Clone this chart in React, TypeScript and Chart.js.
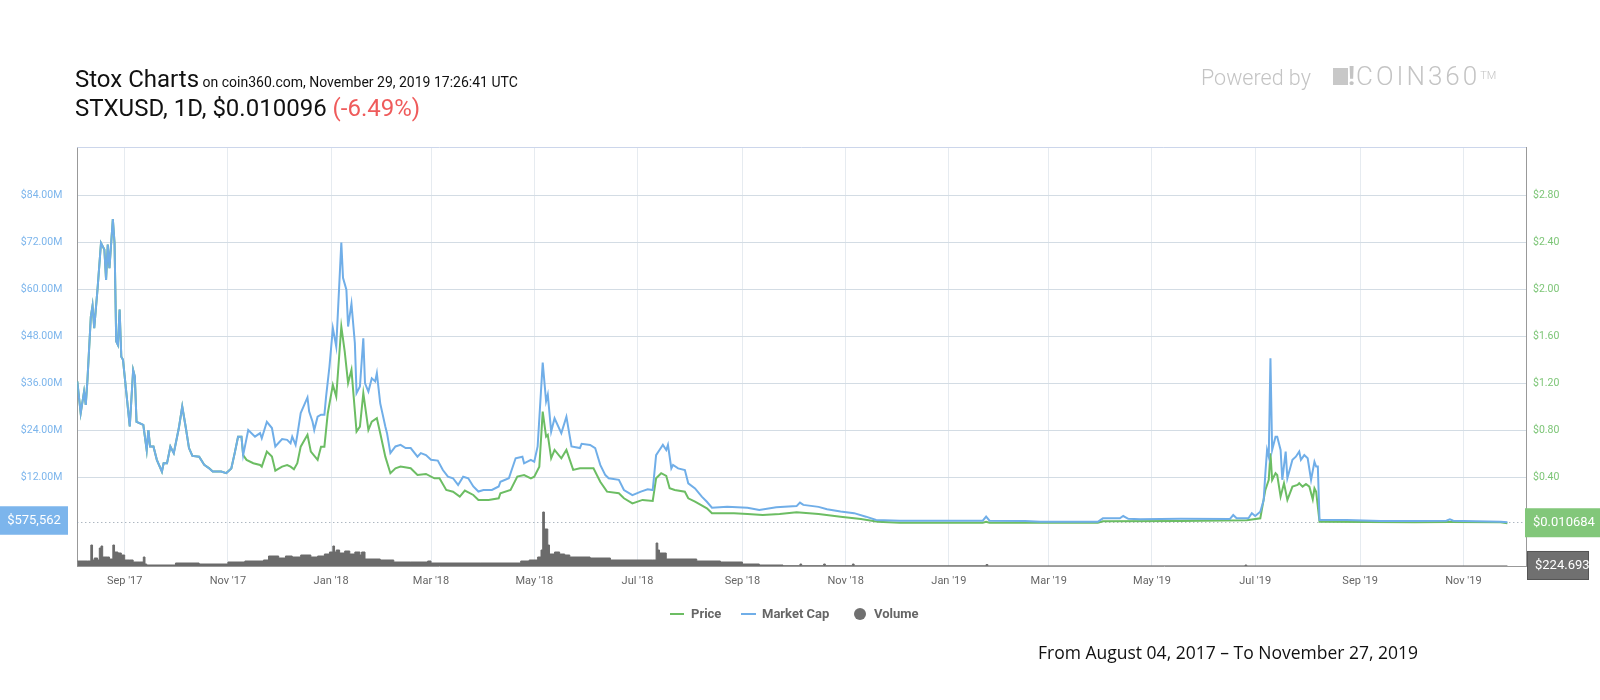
import React, { useEffect, useRef } from "react";
import { Chart, registerables } from "chart.js";

Chart.register(...registerables);

// ---- Data (x = days since Aug 04, 2017) ----
const tickDays = [28, 89, 150, 209, 270, 331, 393, 454, 515, 574, 635, 696, 758, 819];
const tickLabels = ["Sep '17", "Nov '17", "Jan '18", "Mar '18", "May '18", "Jul '18", "Sep '18", "Nov '18", "Jan '19", "Mar '19", "May '19", "Jul '19", "Sep '19", "Nov '19"];

const capTicks = [12, 24, 36, 48, 60, 72, 84]; // USD millions
const priceTicks = [0.4, 0.8, 1.2, 1.6, 2.0, 2.4, 2.8];

// Market cap, USD millions
const capDays = [
  0, 2, 4, 5, 6, 8, 9, 10, 12, 14, 16, 17, 18, 19, 21, 22, 23, 24, 25, 26, 27, 29, 31, 33, 34, 35, 39, 41, 42, 43, 45, 47, 50, 51, 53, 55, 57, 60, 62, 64, 66, 68, 72, 75, 78, 80, 85, 88, 91, 93, 95, 97, 98,
  101, 105, 108, 109, 112, 115, 117, 121, 124, 126, 127, 129, 130, 132, 136, 137, 139, 140, 142, 144, 146, 147, 149, 151, 153, 156, 157, 159, 160, 162, 164, 165, 167, 169, 170, 172, 174, 176, 177, 179, 182, 183, 185, 188, 191, 194, 197, 201, 203, 206, 209, 213, 216, 219, 222, 225, 228, 231, 234, 237, 240, 245, 249,
  250, 255, 259, 263, 264, 268, 270, 272, 275, 277, 278, 280, 282, 286, 289, 292, 297, 298, 303, 306, 309, 312, 314, 320, 323, 328, 333, 337, 340, 342, 344, 346, 348, 349, 351, 352, 355, 359, 361, 365, 369, 372, 375, 384, 396, 403, 413, 425, 427, 429, 438, 443, 451, 459, 466, 472, 486,
  535, 537, 539, 560, 569, 603, 606, 616, 618, 621, 628, 652, 681, 683, 685, 692, 694, 696, 699, 701, 702, 703, 704, 705, 706, 708, 709, 711, 712, 714, 715, 718, 720, 722, 723, 725, 727, 729, 731, 732, 733, 734, 750, 770, 790, 809, 811, 813, 819, 841, 845,
];
const capValues = [
  36.5, 28.4, 33.9, 30.5, 36.9, 53.0, 55.8, 50.1, 60.3, 71.8, 70.1, 62.4, 71.4, 65.4, 77.9, 71.8, 46.7, 45.8, 54.8, 42.8, 42.0, 33.5, 25.0, 39.4, 37.7, 26.2, 25.4, 19.0, 24.1, 19.9, 19.9, 16.5, 13.5, 15.6, 15.6, 19.9, 18.2, 24.6, 30.1, 25.0, 19.5, 17.5, 17.3, 15.2, 14.3, 13.5, 13.5, 13.1, 14.3, 18.2, 22.4, 22.4, 17.7,
  24.1, 22.4, 23.3, 22.0, 26.2, 24.6, 19.9, 21.8, 21.6, 20.7, 22.4, 20.3, 22.8, 28.4, 32.4, 28.8, 26.2, 24.1, 27.5, 28.0, 28.0, 32.6, 40.3, 50.1, 45.4, 71.9, 62.9, 59.9, 50.5, 56.3, 46.3, 33.5, 35.2, 47.5, 36.0, 33.9, 37.3, 36.5, 38.6, 30.9, 25.0, 23.3, 18.2, 19.9, 20.3, 19.5, 19.5, 17.3, 18.2, 17.7, 16.5, 16.3, 13.9, 12.2, 11.8, 10.1, 12.2, 11.8, 9.7, 8.4, 8.8, 8.8, 9.7,
  10.9, 11.8, 16.9, 17.3, 15.6, 16.5, 16.0, 19.9, 41.3, 31.4, 33.1, 23.7, 27.1, 23.3, 27.5, 19.9, 19.5, 20.6, 20.3, 19.5, 15.2, 12.6, 11.8, 11.4, 8.8, 7.5, 8.4, 9.0, 8.8, 17.7, 19.0, 20.3, 19.0, 20.3, 14.3, 15.2, 14.3, 13.9, 10.5, 9.2, 7.1, 5.8, 4.3, 4.5, 4.3, 3.7, 4.4, 4.7, 5.6, 5.0, 4.5, 3.9, 3.3, 2.9, 2.0, 1.15, 0.97,
  0.97, 2.0, 0.97, 0.9, 0.71, 0.71, 1.58, 1.6, 2.17, 1.45, 1.33, 1.45, 1.40, 2.43, 1.58, 1.58, 2.86, 2.17, 3.27, 6.25, 13.1, 19.0, 17.3, 42.4, 19.0, 22.4, 22.4, 19.0, 11.4, 18.6, 11.8, 16.5, 17.3, 18.6, 16.5, 17.7, 16.9, 11.4, 16.0, 14.8, 14.8, 1.15, 1.15, 0.89, 0.89, 0.95, 1.33, 0.95, 0.89, 0.71, 0.575562,
];

// Price, USD
const priceDays = [
  0, 2, 4, 5, 6, 8, 9, 10, 12, 14, 16, 17, 18, 19, 21, 22, 23, 24, 25, 26, 27, 29, 31, 33, 34, 35, 39, 41, 42, 43, 45, 47, 50, 51, 53, 55, 57, 60, 62, 64, 66, 68, 72, 75, 78, 80, 85, 88, 91, 93, 95, 97, 98,
  100, 104, 108, 109, 112, 115, 117, 121, 124, 126, 128, 130, 132, 136, 138, 142, 144, 146, 148, 151, 153, 156, 158, 160, 162, 165, 167, 169, 172, 174, 177, 179, 182, 185, 188, 191, 197, 201, 206, 211, 214, 218, 222, 226, 229, 234, 237, 243, 249,
  250, 256, 260, 264, 268, 270, 273, 275, 277, 278, 280, 282, 286, 289, 293, 297, 305, 309, 313, 320, 323, 328, 334, 340, 342, 345, 348, 350, 353, 359, 361, 365, 372, 375, 388, 396, 405, 415, 425, 438, 451, 463, 473, 486,
  535, 537, 539, 569, 603, 606, 652, 691, 699, 702, 704, 705, 706, 708, 709, 711, 713, 715, 718, 721, 722, 724, 726, 728, 730, 731, 732, 734, 790, 811, 841, 845,
];
const priceValues = [
  1.217, 0.947, 1.130, 1.017, 1.230, 1.767, 1.860, 1.670, 2.010, 2.393, 2.337, 2.080, 2.380, 2.180, 2.597, 2.393, 1.557, 1.527, 1.827, 1.427, 1.400, 1.117, 0.833, 1.313, 1.257, 0.873, 0.847, 0.633, 0.803, 0.663, 0.663, 0.550, 0.450, 0.520, 0.520, 0.663, 0.607, 0.820, 1.003, 0.833, 0.650, 0.583, 0.577, 0.507, 0.477, 0.450, 0.450, 0.437, 0.477, 0.607, 0.747, 0.747, 0.590,
  0.549, 0.521, 0.506, 0.492, 0.620, 0.577, 0.458, 0.492, 0.506, 0.492, 0.470, 0.521, 0.662, 0.762, 0.620, 0.549, 0.662, 0.662, 0.946, 1.187, 1.088, 1.683, 1.471, 1.202, 1.315, 0.790, 0.832, 1.117, 0.804, 0.875, 0.904, 0.776, 0.577, 0.436, 0.478, 0.492, 0.478, 0.421, 0.430, 0.393, 0.393, 0.294, 0.279, 0.237, 0.288, 0.251, 0.209, 0.209, 0.223,
  0.266, 0.294, 0.407, 0.421, 0.393, 0.407, 0.492, 0.960, 0.747, 0.762, 0.563, 0.634, 0.563, 0.634, 0.464, 0.478, 0.478, 0.364, 0.279, 0.266, 0.223, 0.180, 0.209, 0.200, 0.393, 0.436, 0.413, 0.308, 0.294, 0.279, 0.223, 0.194, 0.138, 0.095, 0.095, 0.089, 0.081, 0.089, 0.104, 0.089, 0.066, 0.047, 0.024, 0.015,
  0.015, 0.024, 0.015, 0.015, 0.015, 0.027, 0.030, 0.036, 0.053, 0.294, 0.379, 0.606, 0.379, 0.436, 0.421, 0.237, 0.351, 0.209, 0.322, 0.336, 0.351, 0.322, 0.345, 0.322, 0.214, 0.308, 0.279, 0.024, 0.020, 0.022, 0.019, 0.010684,
];

// Volume, USD thousands
const volDays = [
  0, 6, 8, 9, 10, 12, 13, 14, 15, 18, 19, 21, 22, 24, 26, 28, 31, 33, 37, 39, 40, 41, 58, 72, 89, 99, 110, 113, 119, 123,
  127, 132, 138, 142, 146, 149, 151, 152, 153, 155, 158, 161, 164, 167, 168, 170, 179, 187, 197, 207, 209, 238, 262, 267, 272, 274, 275, 276, 278, 279,
  282, 285, 288, 291, 303, 315, 340, 342, 343, 344, 348, 366, 380, 393, 403, 417, 427, 428, 441, 442, 458, 459, 537, 538, 690, 691, 845,
];
const volValues = [
  100, 100, 420, 120, 160, 120, 360, 400, 180, 180, 140, 420, 280, 260, 220, 120, 120, 80, 80, 180, 40, 20, 60, 40, 80, 100, 120, 200, 160, 200,
  180, 220, 180, 200, 240, 280, 400, 280, 320, 260, 300, 240, 280, 220, 280, 140, 120, 80, 80, 100, 60, 60, 100, 120, 180, 320, 1080, 740, 420, 240,
  280, 240, 220, 180, 160, 120, 120, 460, 320, 260, 140, 100, 80, 40, 20, 6, 40, 6, 40, 6, 40, 4, 30, 2, 20, 1, 0.224693,
];

const lastCap = 575562;
const lastPrice = 0.010684;
const lastVolume = 224.693;

const BLUE = "#70aee8";
const GREEN = "#6cbd63";
const VOL = "#6b6b6b";

export default function App() {
  const ref = useRef<HTMLCanvasElement>(null);

  useEffect(() => {
    const canvas = ref.current!;

    const overlayPlugin = {
      id: "stxOverlay",
      beforeDatasetsDraw(chart: any) {
        const { ctx, chartArea: a, scales } = chart;
        ctx.save();
        ctx.lineWidth = 1;
        ctx.strokeStyle = "#ccd6eb";
        ctx.beginPath();
        ctx.moveTo(a.left, Math.round(a.top) + 0.5);
        ctx.lineTo(a.right, Math.round(a.top) + 0.5);
        ctx.stroke();
        const y = Math.round(scales.yCap.getPixelForValue(lastCap / 1e6)) + 0.5;
        ctx.setLineDash([1, 3]);
        ctx.strokeStyle = "#8a98a6";
        ctx.beginPath();
        ctx.moveTo(a.left, y);
        ctx.lineTo(a.right, y);
        ctx.stroke();
        ctx.restore();
      },
      afterDraw(chart: any) {
        const { ctx, chartArea: a, scales } = chart;
        ctx.save();
        ctx.font = "13px Roboto, sans-serif";
        ctx.textBaseline = "middle";
        const yC = scales.yCap.getPixelForValue(lastCap / 1e6);
        ctx.fillStyle = "#7cb5ec";
        ctx.fillRect(0, yC - 16, 68, 28.5);
        ctx.fillStyle = "#ffffff";
        ctx.textAlign = "center";
        ctx.fillText("$" + lastCap.toLocaleString("en-US"), 34, yC - 1.5);

        const yP = scales.yPrice.getPixelForValue(lastPrice);
        ctx.fillStyle = "#82c77a";
        ctx.fillRect(a.right - 1, yP - 15, 1600 - a.right + 1, 29);
        ctx.fillStyle = "#ffffff";
        ctx.textAlign = "left";
        ctx.fillText("$" + lastPrice, a.right + 7, yP);

        const yV = scales.yVol.getPixelForValue(lastVolume / 1000);
        ctx.fillStyle = "#707070";
        ctx.fillRect(a.right + 1, yV - 15, 62, 29);
        ctx.strokeStyle = "#555555";
        ctx.lineWidth = 1;
        ctx.strokeRect(a.right + 1.5, yV - 14.5, 61, 28);
        ctx.fillStyle = "#ffffff";
        ctx.fillText("$" + lastVolume, a.right + 9, yV);
        ctx.restore();
      },
    };

    const chart = new Chart(canvas, {
      type: "line",
      data: {
        datasets: [
          {
            label: "Market Cap",
            data: capDays.map((d, i) => ({ x: d, y: capValues[i] })),
            yAxisID: "yCap",
            borderColor: BLUE,
            backgroundColor: BLUE,
            borderWidth: 2,
            pointRadius: 0,
            tension: 0,
            order: 1,
          },
          {
            label: "Price",
            data: priceDays.map((d, i) => ({ x: d, y: priceValues[i] })),
            yAxisID: "yPrice",
            borderColor: GREEN,
            backgroundColor: GREEN,
            borderWidth: 2,
            pointRadius: 0,
            tension: 0,
            order: 2,
          },
          {
            label: "Volume",
            data: volDays.map((d, i) => ({ x: d, y: volValues[i] })),
            yAxisID: "yVol",
            borderColor: VOL,
            backgroundColor: VOL,
            borderWidth: 1,
            pointRadius: 0,
            stepped: true,
            fill: "origin",
            order: 3,
          },
        ],
      },
      options: {
        responsive: false,
        animation: false,
        events: [],
        layout: { padding: { top: 147.3, bottom: 104, left: 0, right: 0 } },
        plugins: { legend: { display: false }, tooltip: { enabled: false } },
        scales: {
          x: {
            type: "linear",
            min: 0,
            max: 856,
            afterBuildTicks: (s: any) => {
              s.ticks = tickDays.map((v) => ({ value: v }));
            },
            afterFit: (s: any) => {
              s.height = 30;
            },
            ticks: {
              autoSkip: false,
              maxRotation: 0,
              padding: 9,
              color: "#666666",
              font: { family: "Roboto", size: 11 },
              callback: (v: any) => {
                const i = tickDays.indexOf(Number(v));
                return i >= 0 ? tickLabels[i] : "";
              },
            },
            grid: { color: "#e6ebf0", drawTicks: false },
            border: { color: "#999999" },
          },
          yCap: {
            type: "linear",
            position: "left",
            min: -10.58,
            max: 96.2,
            afterBuildTicks: (s: any) => {
              s.ticks = capTicks.map((v) => ({ value: v }));
            },
            afterFit: (s: any) => {
              s.width = 77.3;
            },
            ticks: {
              padding: 15,
              color: "#7cb5ec",
              font: { family: "Roboto", size: 10.5 },
              callback: (v: any) => "$" + Number(v).toFixed(2) + "M",
            },
            grid: { color: "#d3dce4", drawTicks: false },
            border: { color: "#999999" },
          },
          yPrice: {
            type: "linear",
            position: "right",
            min: -0.3528,
            max: 3.2068,
            afterBuildTicks: (s: any) => {
              s.ticks = priceTicks.map((v) => ({ value: v }));
            },
            afterFit: (s: any) => {
              s.width = 74;
            },
            ticks: {
              padding: 7,
              color: "#7cc576",
              font: { family: "Roboto", size: 10.5 },
              callback: (v: any) => "$" + Number(v).toFixed(2),
            },
            grid: { display: false, drawTicks: false },
            border: { color: "#999999" },
          },
          yVol: {
            type: "linear",
            display: false,
            min: 0,
            max: 8374,
          },
        },
      },
      plugins: [overlayPlugin],
    } as any);

    return () => chart.destroy();
  }, []);

  const legendText: React.CSSProperties = {
    position: "absolute",
    top: 606,
    lineHeight: "16px",
    fontSize: 13,
    fontWeight: 700,
    color: "#666666",
    whiteSpace: "nowrap",
  };

  return (
    <div
      style={{
        position: "absolute",
        left: 0,
        top: 0,
        width: 1600,
        height: 700,
        background: "#ffffff",
        fontFamily: "Roboto, 'Noto Sans', sans-serif",
        overflow: "hidden",
      }}
    >
      <canvas
        ref={ref}
        width={1600}
        height={700}
        style={{ position: "absolute", left: 0, top: 0, width: 1600, height: 700, display: "block" }}
      />

      <div style={{ position: "absolute", left: 75, top: 66.5, lineHeight: "24px", whiteSpace: "nowrap", color: "#111" }}>
        <span style={{ fontSize: 24 }}>Stox Charts</span>
        <span style={{ fontSize: 14 }}> on coin360.com, November 29, 2019 17:26:41 UTC</span>
      </div>
      <div style={{ position: "absolute", left: 75, top: 96, lineHeight: "24px", whiteSpace: "nowrap", color: "#111", fontSize: 24 }}>
        STXUSD, 1D, $0.010096 <span style={{ color: "#ef5b5b" }}>(-6.49%)</span>
      </div>

      <div style={{ position: "absolute", left: 1201, top: 66, lineHeight: "24px", fontSize: 21.5, fontWeight: 300, color: "#c4c4c4", whiteSpace: "nowrap" }}>
        Powered by
      </div>
      <div style={{ position: "absolute", left: 1333, top: 68, width: 15, height: 17, background: "#c8c8c8" }} />
      <div style={{ position: "absolute", left: 1348, top: 63, lineHeight: "27px", fontSize: 26, fontWeight: 300, color: "#c4c4c4", whiteSpace: "nowrap", letterSpacing: 3 }}>
        <span style={{ fontWeight: 700, letterSpacing: 1 }}>!</span>COIN360<span style={{ fontSize: 11, verticalAlign: "top", letterSpacing: 0, position: "relative", top: -1 }}>TM</span>
      </div>

      <div style={{ position: "absolute", left: 670, top: 613, width: 14, height: 2, background: GREEN }} />
      <div style={{ ...legendText, left: 691 }}>Price</div>
      <div style={{ position: "absolute", left: 741, top: 613, width: 15, height: 2, background: BLUE }} />
      <div style={{ ...legendText, left: 762 }}>Market Cap</div>
      <div style={{ position: "absolute", left: 854, top: 608, width: 12, height: 12, borderRadius: 6, background: "#707070" }} />
      <div style={{ ...legendText, left: 874 }}>Volume</div>

      <div style={{ position: "absolute", left: 1038, top: 640, lineHeight: "24px", fontSize: 17.5, fontFamily: "'Open Sans', Roboto, sans-serif", color: "#111", whiteSpace: "nowrap" }}>
        From August 04, 2017 – To November 27, 2019
      </div>
    </div>
  );
}
